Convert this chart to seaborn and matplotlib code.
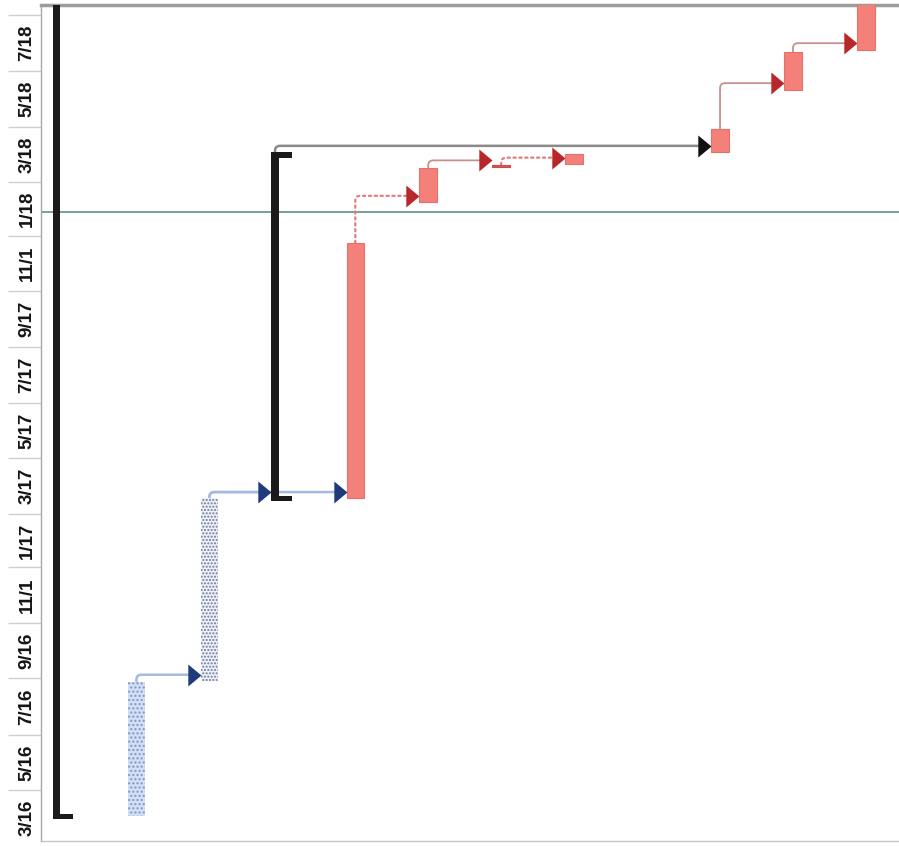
import numpy as np
import pandas as pd
import seaborn as sns
import matplotlib.pyplot as plt
import matplotlib.dates as mdates
from matplotlib.patches import FancyArrowPatch

# timescale: two-month bands, label sits in the middle of each band
band_starts = ["2016-03-01", "2016-05-01", "2016-07-01", "2016-09-01", "2016-11-01",
               "2017-01-01", "2017-03-01", "2017-05-01", "2017-07-01", "2017-09-01",
               "2017-11-01", "2018-01-01", "2018-03-01", "2018-05-01", "2018-07-01",
               "2018-09-01"]
band_labels = ["3/16", "5/16", "7/16", "9/16", "11/1", "1/17", "3/17", "5/17",
               "7/17", "9/17", "11/1", "1/18", "3/18", "5/18", "7/18"]

# tasks (row = position across the sheet, left to right)
task_rows = [1, 2, 4, 5, 6, 7, 9, 10, 11]
task_start = ["2016-04-03", "2016-08-29", "2017-03-18", "2018-02-07", "2018-03-18",
              "2018-03-21", "2018-04-03", "2018-06-11", "2018-07-25"]
task_end = ["2016-08-28", "2017-03-18", "2017-12-24", "2018-03-17", "2018-03-20",
            "2018-04-01", "2018-04-28", "2018-07-22", "2018-10-15"]
task_kind = ["done1", "done2", "crit", "crit", "tiny", "crit", "crit", "crit", "crit"]

# summary bars
summary_rows = [0, 3]
summary_start = ["2016-03-30", "2017-03-15"]
summary_end = ["2018-10-31", "2018-04-03"]

# links: predecessor row -> successor row
link_from = [1, 2, 2, 4, 5, 6, 3, 9, 10]
link_to = [2, 3, 4, 5, 6, 7, 9, 10, 11]
link_kind = ["blue", "blue", "blue", "reddot", "redline", "reddot", "black", "redline", "redline"]

status_date = "2018-01-27"

sns.set_theme(style="white")
plt.rcParams['font.family'] = ['Liberation Sans', 'DejaVu Sans']

d2n = lambda s: mdates.date2num(pd.to_datetime(s))

fig = plt.figure(figsize=(8.99, 8.46), dpi=100)
ax = fig.add_axes([41 / 899, 5 / 846, 858 / 899, 836 / 846])

BAR_W = 0.24
fills = {"done1": ("#D3DFF4", "#8196C6", "...."),
         "done2": ("#EEF1F8", "#6E7A9E", "....."),
         "crit": ("#F4807A", "#E8706B", None),
         "tiny": ("#D65A57", "#C94A48", None)}

starts = {}
ends = {}
for r, s, e, k in zip(task_rows, task_start, task_end, task_kind):
    s, e = d2n(s), d2n(e)
    starts[r], ends[r] = s, e
    fc, ec, h = fills[k]
    ax.bar(r, e - s, bottom=s, width=BAR_W, color=fc, edgecolor=ec,
           hatch=h, linewidth=0.8 if h is None else 0, zorder=3)

# summary bars: thick line with feet at both ends
for r, s, e in zip(summary_rows, summary_start, summary_end):
    s, e = d2n(s), d2n(e)
    starts[r], ends[r] = s, e
    ax.bar(r - 0.15, e - s, bottom=s, width=0.1, align="edge", color="#1A1A1A", lw=0, zorder=4)
    for b in (s, e - 6):
        ax.bar(r - 0.15, 6, bottom=b, width=0.28, align="edge", color="#1A1A1A", lw=0, zorder=4)

link_style = {"blue": ("#A5BADF", "-", 1.8, "#1F3B7C"),
              "reddot": ("#E57C7C", ":", 1.6, "#B8282A"),
              "redline": ("#C98F8F", "-", 1.3, "#B8282A"),
              "black": ("#8A8A8A", "-", 1.8, "#111111")}
arrow_marker = [(0, 0), (-0.6, 0.5), (-0.6, -0.5), (0, 0)]

for a, b, k in zip(link_from, link_to, link_kind):
    col, ls, lw, head = link_style[k]
    x0 = a - 0.1 if a in summary_rows else a
    y0 = ends[a]
    x1 = b - 0.15 if b in summary_rows else b - BAR_W / 2
    y1 = max(ends[a], starts[b]) + 7
    p = FancyArrowPatch((x0, y0), (x1 - 0.05, y1), arrowstyle="-",
                        connectionstyle="angle,angleA=90,angleB=0,rad=5",
                        color=col, lw=lw, linestyle=ls, shrinkA=0, shrinkB=0, zorder=2)
    ax.add_patch(p)
    ax.plot([x1], [y1], marker=arrow_marker, ms=19, color=head, mec=head, mew=0, zorder=5)

ax.axhline(d2n(status_date), color="#6F978E", lw=1.3, zorder=1)

bounds = d2n(band_starts)
mids = (bounds[:-1] + bounds[1:]) / 2
ax.set_yticks(bounds, minor=True)
ax.set_yticks(mids)
ax.set_yticklabels(band_labels, rotation=90, fontsize=13.5, fontweight="bold",
                   color="#151515", va="center")
ax.tick_params(axis="y", which="major", length=0, pad=4, left=True)
ax.tick_params(axis="y", which="minor", length=24, width=1, color="#CFCFCF", direction="out", left=True)
ax.set_xticks([])

ax.set_xlim(-0.308, 11.453)
ax.set_ylim(d2n("2016-03-06"), d2n("2018-09-12"))

for side in ax.spines:
    ax.spines[side].set_visible(True)
ax.spines["top"].set_color("#9C9C9C")
ax.spines["top"].set_linewidth(2.5)
ax.spines["left"].set_color("#A8A8A8")
ax.spines["left"].set_linewidth(1)
ax.spines["bottom"].set_color("#C4C4C4")
ax.spines["bottom"].set_linewidth(1)
ax.spines["right"].set_visible(False)

fig.savefig("out.png", dpi=100)
